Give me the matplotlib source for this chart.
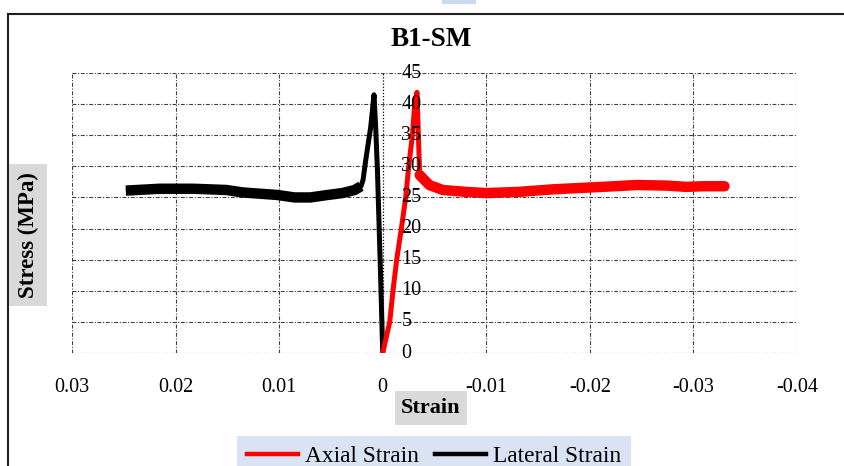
import matplotlib
matplotlib.use('Agg')
import matplotlib.pyplot as plt
from matplotlib.lines import Line2D
from matplotlib.patches import Rectangle

plt.rcParams['font.family'] = ['Liberation Serif', 'DejaVu Serif']

title = "B1-SM"
x_label = "Strain"
y_label = "Stress (MPa)"
series_names = ["Axial Strain", "Lateral Strain"]
series_colors = ["#ff0000", "#000000"]

x_ticks = [0.03, 0.02, 0.01, 0, -0.01, -0.02, -0.03, -0.04]
x_tick_labels = ["0.03", "0.02", "0.01", "0", "-0.01", "-0.02", "-0.03", "-0.04"]
y_ticks = [0, 5, 10, 15, 20, 25, 30, 35, 40, 45]

axial_strain = [0.0, -0.00068, -0.00099, -0.00135, -0.00180, -0.00222, -0.00251,
                -0.00287, -0.00309, -0.00331, -0.00357,
                -0.0045, -0.0058, -0.0080, -0.0100, -0.0132, -0.0164, -0.0200,
                -0.0224, -0.0245, -0.0275, -0.0293, -0.0309, -0.0330]
axial_stress = [0.0, 5.0, 10.0, 15.0, 20.0, 25.0, 30.0, 35.0, 40.0, 41.9, 28.6,
                27.0, 26.2, 25.9, 25.7, 25.9, 26.3, 26.6,
                26.8, 27.0, 26.9, 26.7, 26.8, 26.8]
axial_plateau_start = 10

lateral_strain = [0.0, 0.00022, 0.00051, 0.00068, 0.00084, 0.00116, 0.00164, 0.0019,
                  0.0021, 0.0027, 0.0039, 0.0053, 0.0070, 0.0085, 0.0102, 0.0135,
                  0.0151, 0.0183, 0.0215, 0.0248]
lateral_stress = [0.0, 13.3, 29.4, 36.3, 41.5, 36.3, 31.0, 27.8,
                  26.8, 26.2, 25.7, 25.4, 25.0, 25.0, 25.4, 25.8,
                  26.2, 26.4, 26.4, 26.1]
lateral_plateau_start = 8

W, H = 844, 466
fig = plt.figure(figsize=(W / 100, H / 100), dpi=100)
ax = fig.add_axes([72 / W, 1 - 353 / H, 725 / W, 280 / H])
ax.set_xlim(0.03, -0.04)
ax.set_ylim(0, 45)

for s in ax.spines.values():
    s.set_visible(False)

grid_kw = dict(color='#404040', lw=0.8, linestyle=(0, (3.5, 1.5, 1, 1.5)), zorder=1)
for yv in y_ticks:
    ax.axhline(yv, **grid_kw)
for xv in x_ticks:
    if xv != 0:
        ax.axvline(xv, **grid_kw)
ax.axvline(0, color='black', lw=0.9, linestyle=(0, (1, 1.5)), zorder=1)

# series
ax.plot(axial_strain, axial_stress, color=series_colors[0], lw=3.6,
        solid_joinstyle='round', solid_capstyle='round', zorder=3)
ax.plot(axial_strain[axial_plateau_start:], axial_stress[axial_plateau_start:],
        color=series_colors[0], lw=7.5, solid_joinstyle='round',
        solid_capstyle='round', zorder=3)
ax.plot(lateral_strain, lateral_stress, color=series_colors[1], lw=3.6,
        solid_joinstyle='round', solid_capstyle='butt', zorder=2)
ax.plot(lateral_strain[lateral_plateau_start:], lateral_stress[lateral_plateau_start:],
        color=series_colors[1], lw=7.5, solid_joinstyle='round',
        solid_capstyle='butt', zorder=2)

ax.set_xticks(x_ticks)
ax.set_xticklabels(x_tick_labels, fontsize=14.5)
ax.tick_params(axis='x', length=0, pad=18)
ax.set_yticks([])
for yv in y_ticks:
    ax.annotate(str(yv), xy=(0, yv), xytext=(13.5, 0), textcoords='offset points',
                ha='left', va='center', fontsize=14.5, zorder=4)

# title and axis labels
fig.text(431 / W, 1 - 40 / H, title, ha='center', va='center',
         fontsize=19.5, fontweight='bold')
fig.text(431 / W, 1 - 408 / H, x_label, ha='center', va='center',
         fontsize=16, fontweight='bold',
         bbox=dict(boxstyle='square,pad=0.3', fc='#d9d9d9', ec='none'))
fig.text(28 / W, 1 - 235 / H, y_label, ha='center', va='center', rotation=90,
         fontsize=16.5, fontweight='bold',
         bbox=dict(boxstyle='square,pad=0.35', fc='#d9d9d9', ec='none'))

# legend
handles = [Line2D([], [], color=c, lw=3.2) for c in series_colors]
leg = fig.legend(handles, series_names, loc='center', ncol=2,
                 bbox_to_anchor=(434 / W, 1 - 456 / H), fontsize=16.8,
                 frameon=True, fancybox=False, handlelength=2.2,
                 handletextpad=0.3, columnspacing=0.7, borderpad=0.4)
leg.get_frame().set_facecolor('#dae3f3')
leg.get_frame().set_edgecolor('none')
leg.get_frame().set_alpha(1)

# outer chart frame
fig.add_artist(Line2D([8 / W, 8 / W], [0, 1 - 14 / H], transform=fig.transFigure,
                      color='#202020', lw=1.5))
fig.add_artist(Line2D([8 / W, 1], [1 - 14 / H, 1 - 14 / H], transform=fig.transFigure,
                      color='#202020', lw=1.5))
# small light-blue artefact at the top edge
fig.add_artist(Rectangle((442 / W, 1 - 4 / H), 34 / W, 4 / H, transform=fig.transFigure,
                         fc='#c9daf0', ec='none'))

fig.savefig('out.png', dpi=100)
